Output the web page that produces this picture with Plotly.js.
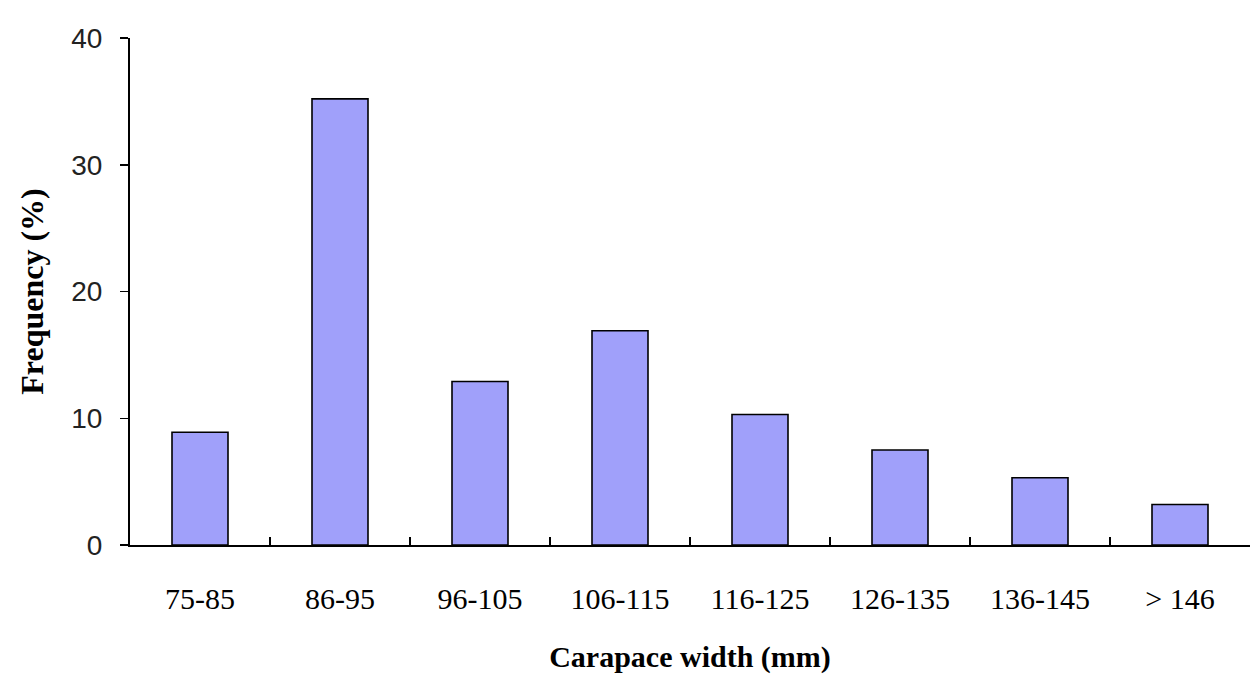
<!DOCTYPE html>
<html>
<head>
<meta charset="utf-8">
<script src="https://cdn.plot.ly/plotly-3.0.1.min.js"></script>
<style>
  html, body { margin: 0; padding: 0; background: #fff; }
  #graph { width: 1260px; height: 694px; }
</style>
</head>
<body>
<div id="graph"></div>
<script>
// size classes of carapace width and their frequency (%)
var widthClasses = ['75-85', '86-95', '96-105', '106-115', '116-125', '126-135', '136-145', '> 146'];
var frequency = [8.9, 35.2, 12.9, 16.9, 10.3, 7.5, 5.3, 3.2];

var bars = {
    x: widthClasses,
    y: frequency,
    type: 'bar',
    width: 0.4,
    marker: {
        color: '#a0a0fa',
        line: { color: '#000', width: 1.6 }
    },
    hoverinfo: 'x+y'
};

var layout = {
    width: 1260,
    height: 694,
    margin: { l: 130, r: 10, t: 38, b: 149 },
    paper_bgcolor: '#fff',
    plot_bgcolor: '#fff',
    showlegend: false,
    xaxis: {
        type: 'category',
        showline: true,
        linecolor: '#000',
        linewidth: 2,
        ticks: 'inside',
        tickson: 'boundaries',
        ticklen: 8,
        tickwidth: 1.5,
        tickcolor: '#000',
        ticklabelstandoff: 26,
        showgrid: false,
        zeroline: false,
        tickfont: { family: 'Liberation Serif, serif', size: 30, color: '#000' },
        title: {
            text: '<b>Carapace width (mm)</b>',
            standoff: 32,
            font: { family: 'Liberation Serif, serif', size: 30, color: '#000' }
        }
    },
    yaxis: {
        range: [0, 40],
        dtick: 10,
        showline: true,
        linecolor: '#000',
        linewidth: 2,
        ticks: 'outside',
        ticklen: 8,
        tickwidth: 1.5,
        tickcolor: '#000',
        ticklabelstandoff: 12,
        showgrid: false,
        zeroline: false,
        tickfont: { family: 'Liberation Sans, sans-serif', size: 28, color: '#222' },
        title: {
            text: '<b>Frequency (%)</b>',
            standoff: 18,
            font: { family: 'Liberation Serif, serif', size: 32, color: '#000' }
        }
    }
};

Plotly.newPlot('graph', [bars], layout, { displayModeBar: false, staticPlot: true });
</script>
</body>
</html>
